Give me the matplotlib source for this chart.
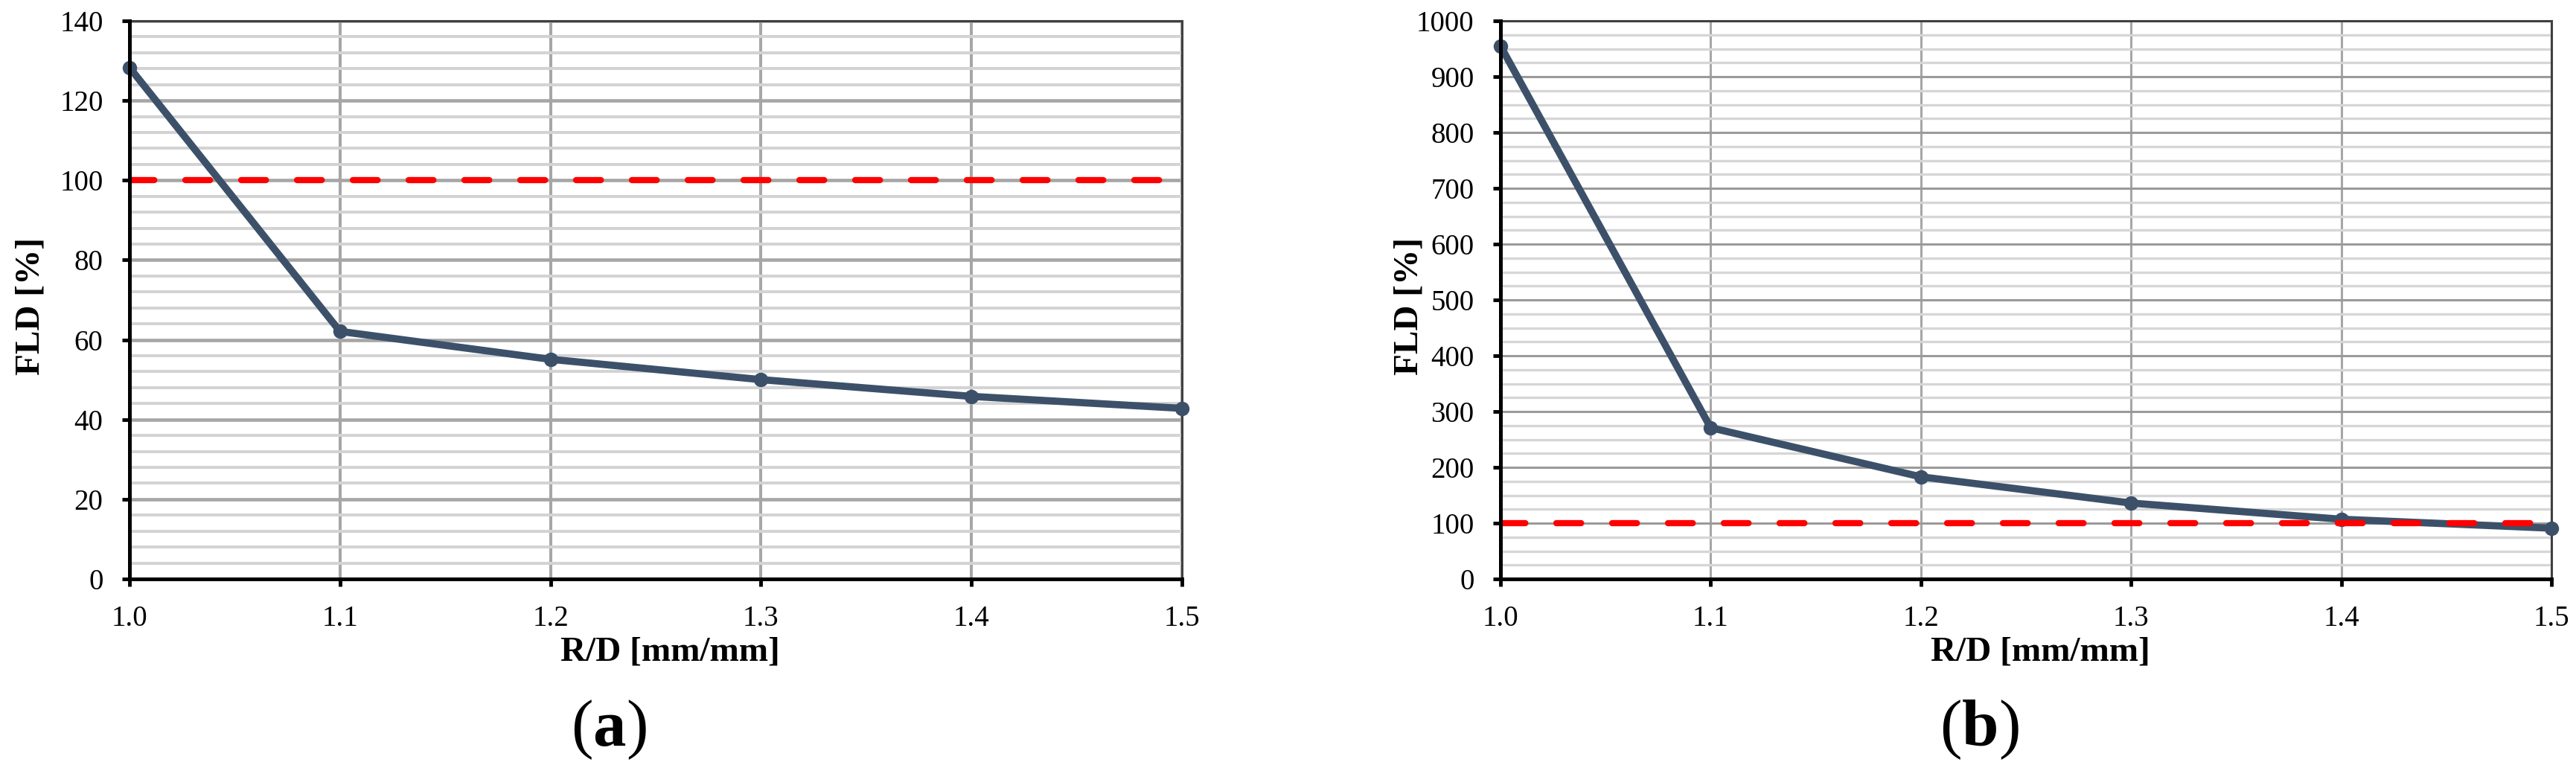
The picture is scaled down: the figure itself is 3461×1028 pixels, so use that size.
import matplotlib
matplotlib.use("Agg")
import matplotlib.pyplot as plt
from matplotlib.ticker import MultipleLocator, FormatStrFormatter

plt.rcParams['font.family'] = ['Liberation Serif', 'DejaVu Serif']
plt.rcParams['mathtext.fontset'] = 'custom'
plt.rcParams['mathtext.rm'] = 'Liberation Serif'
plt.rcParams['mathtext.bf'] = 'Liberation Serif:bold'

# ---- data ----
rd = [1.0, 1.1, 1.2, 1.3, 1.4, 1.5]
fld_a = [128.3, 62.1, 55.1, 50.0, 45.8, 42.8]
fld_b = [955, 271, 183, 136, 107, 91]
limit_x = [1.0, 1.5]
limit_y = [100, 100]
x_ticks = [1.0, 1.1, 1.2, 1.3, 1.4, 1.5]
xlabel = "R/D [mm/mm]"
ylabel = "FLD [%]"
captions = ["a", "b"]

W, H = 3461, 1028
fig = plt.figure(figsize=(W / 100, H / 100), dpi=100)

line_color = '#3c5169'

def make_ax(left_px, right_px, top_px, bottom_px, y, ymax, ymaj, ymin_step,
            caption, ylab_x_px, grid_style):
    ax = fig.add_axes([left_px / W, 1 - bottom_px / H,
                       (right_px - left_px) / W, (bottom_px - top_px) / H])
    ax.set_xlim(1.0, 1.5)
    ax.set_ylim(0, ymax)
    ax.set_xticks(x_ticks)
    ax.xaxis.set_major_formatter(FormatStrFormatter('%.1f'))
    ax.yaxis.set_major_locator(MultipleLocator(ymaj))
    ax.yaxis.set_minor_locator(MultipleLocator(ymin_step))

    maj_c, maj_w, min_c, min_w, v_c, v_w = grid_style
    ax.grid(True, which='minor', axis='y', color=min_c, lw=min_w, zorder=0)
    ax.grid(True, which='major', axis='y', color=maj_c, lw=maj_w, zorder=0)
    ax.grid(True, which='major', axis='x', color=v_c, lw=v_w, zorder=0)
    ax.set_axisbelow(True)

    ax.plot(rd, y, color=line_color, lw=7, marker='o', ms=13,
            solid_joinstyle='round', clip_on=False, zorder=3)
    ax.plot(limit_x, limit_y, color='#ff0000', lw=6, dashes=(4, 5),
            dash_capstyle='round', zorder=4)

    for s in ['left', 'bottom']:
        ax.spines[s].set_color('black')
        ax.spines[s].set_linewidth(3.6)
        ax.spines[s].set_zorder(5)
    for s in ['top', 'right']:
        ax.spines[s].set_color('#404040')
        ax.spines[s].set_linewidth(2.2)

    ax.tick_params(axis='both', which='major', direction='out', length=7,
                   width=3.5, labelsize=28, pad=18.5, color='black')
    ax.tick_params(axis='y', which='minor', length=0)

    w_ax = right_px - left_px
    h_ax = bottom_px - top_px
    ax.set_xlabel(xlabel, fontsize=34, fontweight='bold')
    ax.xaxis.label.set_va('baseline')
    ax.xaxis.set_label_coords(0.5 + 19 / w_ax, (bottom_px - 888) / h_ax)

    ax.set_ylabel(ylabel, fontsize=34, fontweight='bold')
    ax.yaxis.label.set_va('baseline')
    ax.yaxis.set_label_coords((ylab_x_px - left_px) / w_ax,
                              (bottom_px - 412) / h_ax)

    ax.text(0.5 - 63 / w_ax, (bottom_px - 1002) / h_ax,
            '(' + r'$\mathbf{' + caption + '}$' + ')',
            transform=ax.transAxes, ha='center', va='baseline', fontsize=64)
    return ax

style_a = ('#a6a6a6', 3.3, '#d3d3d3', 2.9, '#a6a6a6', 2.9)
style_b = ('#9a9a9a', 2.2, '#d6d6d6', 2.4, '#a6a6a6', 2.2)

make_ax(174, 1588, 28, 778, fld_a, 140, 20, 4, captions[0], 53, style_a)
make_ax(2016, 3428, 28, 778, fld_b, 1000, 100, 25, captions[1], 1905, style_b)

fig.savefig('out.png', dpi=100)
